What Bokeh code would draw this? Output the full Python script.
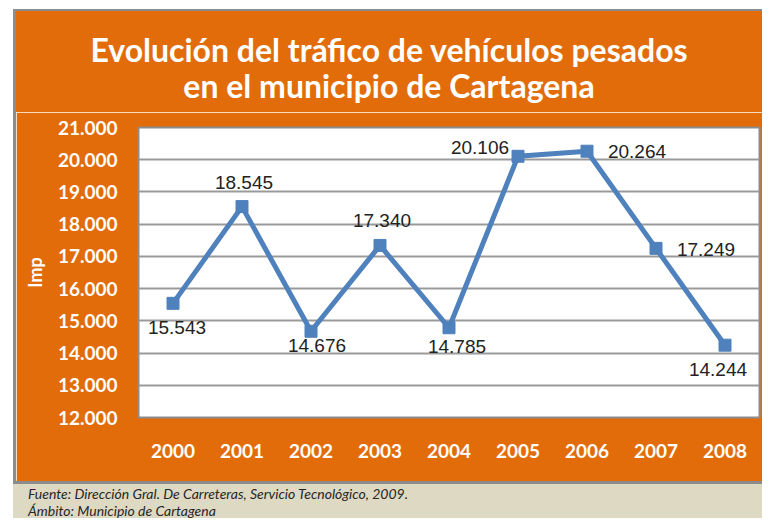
from bokeh.plotting import figure
from bokeh.layouts import row, column
from bokeh.models import (ColumnDataSource, FactorRange, Range1d, FixedTicker,
                          LabelSet, Div)
from bokeh.core.properties import value
from bokeh.embed import file_html
from bokeh.resources import INLINE

# ---- data ----
years = ["2000", "2001", "2002", "2003", "2004", "2005", "2006", "2007", "2008"]
trafico = [15543, 18545, 14676, 17340, 14785, 20106, 20264, 17249, 14244]
value_labels = ["15.543", "18.545", "14.676", "17.340", "14.785",
                "20.106", "20.264", "17.249", "14.244"]
y_ticks = [12000, 13000, 14000, 15000, 16000, 17000, 18000, 19000, 20000, 21000]
y_tick_labels = ["12.000", "13.000", "14.000", "15.000", "16.000",
                 "17.000", "18.000", "19.000", "20.000", "21.000"]
title_lines = ["Evolución del tráfico de vehículos pesados",
               "en el municipio de Cartagena"]
footer_lines = ["Fuente: Dirección Gral. De Carreteras, Servicio Tecnológico, 2009.",
                "Ámbito: Municipio de Cartagena"]

# label placement (style, pixels)
lab_dx = [4, 2, 6, 2, 8, -38, 50, 50, -7]
lab_dy = [-24, 24, -14, 25, -19, 9, 0, -1, -24]

ORANGE = "#E36C0A"
BLUE = "#4F81BD"
BEIGE = "#DDD9C3"
GRAY = "#8C8C8C"

W, H = 762, 518
LEFT = 16          # width of left strip
HEAD = 112         # height of header
MAIN_BOTTOM = 481  # canvas y where main chart panel ends
FL, FR, FT, FB = 138, 759, 127, 417  # plot frame edges in canvas px

# ---- left strip ----
left = Div(text="", width=LEFT, height=H, margin=0, styles={
    "background": (f"linear-gradient(to right, white 0 13px, transparent 13px), "
                   f"linear-gradient(to bottom, white 0 9px, {GRAY} 9px 484px, "
                   f"{BEIGE} 484px)")})

# ---- header ----
head_html = (
    "<div style=\"padding-top:32px; padding-left:18px; width:728px; "
    "text-align:center; font-family:Lato; font-weight:bold; font-size:32px; "
    "line-height:36px; color:white; white-space:nowrap;\">"
    + title_lines[0] + "<br>" + title_lines[1] + "</div>")
head = Div(text=head_html, width=W - LEFT, height=HEAD, margin=0, styles={
    "background": (f"linear-gradient(to bottom, white 0 9px, {GRAY} 9px 11px, "
                   f"{ORANGE} 11px)"),
    "overflow": "hidden"})

# ---- footer ----
foot_html = (
    "<div style=\"padding-top:4px; padding-left:12px; "
    "font-family:Lato; font-style:italic; font-size:14px; line-height:17px; "
    "color:#262626; white-space:nowrap;\">"
    + footer_lines[0] + "<br>" + footer_lines[1] + "</div>")
foot = Div(text=foot_html, width=W - LEFT, height=H - MAIN_BOTTOM, margin=0,
           styles={"background": (f"linear-gradient(to bottom, {GRAY} 0 3px, "
                                  f"{BEIGE} 3px)"),
                   "overflow": "hidden"})

# ---- main chart ----
p = figure(width=W - LEFT, height=MAIN_BOTTOM - HEAD, output_backend="svg",
           toolbar_location=None,
           x_range=FactorRange(factors=years, range_padding=0),
           y_range=Range1d(y_ticks[0], y_ticks[-1]),
           min_border_left=FL - LEFT, min_border_right=W - FR,
           min_border_top=FT - HEAD, min_border_bottom=MAIN_BOTTOM - FB)
p.border_fill_color = ORANGE
p.background_fill_color = "white"
p.outline_line_color = "#8C8C8C"
p.outline_line_width = 2

p.yaxis.ticker = FixedTicker(ticks=y_ticks)
p.yaxis.major_label_overrides = {t: s for t, s in zip(y_ticks, y_tick_labels)}
for ax in (p.xaxis[0], p.yaxis[0]):
    ax.axis_line_color = None
    ax.major_tick_line_color = None
    ax.minor_tick_line_color = None
    ax.major_label_text_color = "white"
    ax.major_label_text_font = "Lato"
    ax.major_label_text_font_style = "bold"
    ax.major_label_text_font_size = "19px"
p.yaxis.major_label_standoff = 15
p.xaxis.major_label_standoff = 20
p.yaxis.axis_label = "Imp"
p.yaxis.axis_label_text_color = "white"
p.yaxis.axis_label_text_font = "Lato"
p.yaxis.axis_label_text_font_style = "bold"
p.yaxis.axis_label_text_font_size = "18px"
p.yaxis.axis_label_standoff = 9

p.xgrid.grid_line_color = None
p.ygrid.grid_line_color = "#9A9A9A"
p.ygrid.grid_line_width = 2

src = ColumnDataSource(dict(x=years, y=trafico, lab=value_labels,
                            dx=lab_dx, dy=lab_dy))
p.line("x", "y", source=src, line_color=BLUE, line_width=5)
p.scatter("x", "y", source=src, marker="square", size=12,
          fill_color=BLUE, line_color=BLUE)
p.add_layout(LabelSet(x="x", y="y", text="lab", source=src,
                      x_offset="dx", y_offset="dy",
                      text_align="center", text_baseline="middle",
                      text_font=value("Liberation Sans"),
                      text_font_size=value("19px"),
                      text_color="#222222"))

layout = row(left, column(head, p, foot, spacing=0), spacing=0)

open("out.html", "w").write(file_html(layout, INLINE))
